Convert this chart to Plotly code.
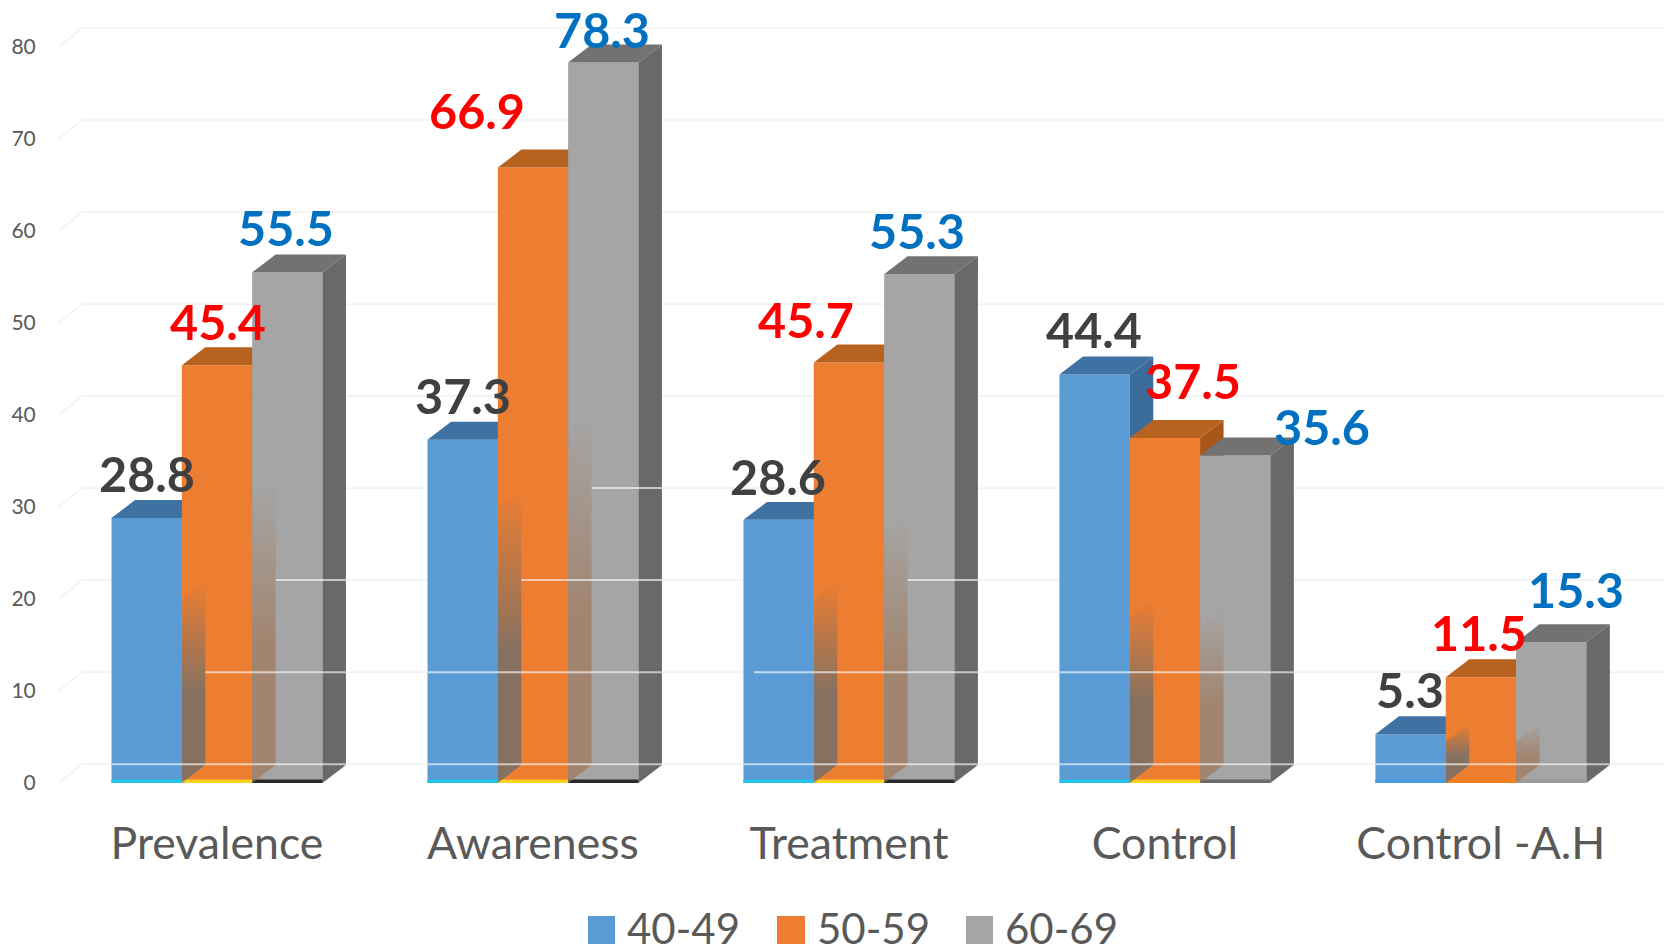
import plotly.graph_objects as go

# ---- chart data ----
categories = ["Prevalence", "Awareness", "Treatment", "Control", "Control -A.H"]
age_groups = ["40-49", "50-59", "60-69"]
values_40_49 = [28.8, 37.3, 28.6, 44.4, 5.3]
values_50_59 = [45.4, 66.9, 45.7, 37.5, 11.5]
values_60_69 = [55.5, 78.3, 55.3, 35.6, 15.3]
y_ticks = [0, 10, 20, 30, 40, 50, 60, 70, 80]

# Height up to which the neighbouring bar's side bleeds through each front face
bleed_50_59 = [20, 30, 20, 18, 4.5]
bleed_60_69 = [31, 38, 27, 17, 4.5]

# ---- styling ----
FIG_W, FIG_H = 1667, 947
M_L, M_B = 56, 164
Y_MAX = 85.1
X_MIN, X_MAX = -0.5095, 4.589
BAR_W = 0.2225
DEPTH_X = 0.0744
DEPTH_Y = 1.95
WALL_Y = 2.05
FONT = "Lato"
TEXT_GREY = "#595959"

front = ["#5b9bd5", "#ed7d31", "#a5a5a5"]
top_face = ["#3f72a3", "#b8621f", "#727272"]
side_face = ["#3c6c9b", "#a9561b", "#696969"]
label_colors = ["#404040", "#ff0000", "#0070c0"]
foot_colors = [
    ["#1fc3ea", "#1fc3ea", "#1fc3ea", "#1fc3ea", "#4a9ae0"],
    ["#ffd21e", "#ffd21e", "#ffd21e", "#ffd21e", "#f08020"],
    ["#2b2b2b", "#2b2b2b", "#2b2b2b", "#6b6b6b", "#9a9a9a"],
]
bleed_colors = ["rgba(105,110,110,0.78)", "rgba(160,120,90,0.72)"]

# Pixel nudges (dx, dy) of each value label relative to its bar's top
label_shift = [
    [(0, 45), (0, 45), (-1, 44), (-1, 45), (-1, 45)],
    [(1, 44), (-56, 57), (-43, 44), (28, 58), (-2, 45)],
    [(-1, 45), (-1, 34), (-2, 44), (87, 29), (25, 53)],
]

# Pale highlight lines crossing the bars: group -> [(level, first bar index, inset)]
highlight_rows = {
    0: [(0, 0, 0), (10, 1, 1), (20, 2, 1)],
    1: [(0, 0, 0), (10, 0, 0), (20, 1, 1), (30, 2, 1)],
    2: [(0, 0, 0), (10, 0, 0.45), (20, 2, 1)],
    3: [(0, 0, 0), (10, 0, 0)],
    4: [(0, 0, 0)],
}

series = [values_40_49, values_50_59, values_60_69]


def bar_left(group, k):
    return group + (k - 1.5) * BAR_W


fig = go.Figure()

# Back wall and floor-side gridlines, offset by the depth of the 3-D box
grid_x, grid_y = [], []
for v in y_ticks:
    grid_x += [X_MIN + 0.008, X_MIN + 0.008 + DEPTH_X, X_MAX - 0.01, None]
    grid_y += [v, v + WALL_Y, v + WALL_Y, None]
fig.add_trace(go.Scatter(x=grid_x, y=grid_y, mode="lines", showlegend=False, hoverinfo="skip",
                         line=dict(color="#f3f3f3", width=1.6), cliponaxis=False))

# One overlaid subplot per series, so each bar covers the side of the previous one
for k, name in enumerate(age_groups):
    xa, ya = f"x{k + 2}", f"y{k + 2}"
    fig.add_trace(go.Bar(
        x=[i - 1.5 * BAR_W + (k + 0.5) * BAR_W for i in range(len(categories))],
        y=series[k], width=BAR_W, name=name, marker=dict(color=front[k], line=dict(width=0)),
        xaxis=xa, yaxis=ya, showlegend=False, cliponaxis=False,
    ))
    for i, v in enumerate(series[k]):
        x0 = bar_left(i, k)
        x1 = x0 + BAR_W
        fig.add_trace(go.Scatter(
            x=[x0, x0 + DEPTH_X, x1 + DEPTH_X, x1, x0],
            y=[v, v + DEPTH_Y, v + DEPTH_Y, v, v],
            fill="toself", fillcolor=top_face[k], mode="none", xaxis=xa, yaxis=ya,
            showlegend=False, hoverinfo="skip",
        ))
        fig.add_trace(go.Scatter(
            x=[x1, x1 + DEPTH_X, x1 + DEPTH_X, x1, x1],
            y=[0, DEPTH_Y, v + DEPTH_Y, v, 0],
            fill="toself", fillcolor=side_face[k], mode="none", xaxis=xa, yaxis=ya,
            showlegend=False, hoverinfo="skip",
        ))
        fig.add_trace(go.Scatter(
            x=[x0, x1], y=[0.2, 0.2], mode="lines", line=dict(color=foot_colors[k][i], width=3.5),
            xaxis=xa, yaxis=ya, showlegend=False, hoverinfo="skip",
        ))

# Soft shadows of the neighbouring side faces showing through the fronts
for k, bleed in zip((1, 2), (bleed_50_59, bleed_60_69)):
    for i, h in enumerate(bleed):
        x0 = bar_left(i, k)
        fig.add_trace(go.Scatter(
            x=[x0, x0 + DEPTH_X, x0 + DEPTH_X, x0, x0],
            y=[0, DEPTH_Y, h + DEPTH_Y, h, 0],
            fill="toself", mode="none", xaxis="x5", yaxis="y5",
            fillgradient=dict(type="vertical", colorscale=[
                [0.0, bleed_colors[k - 1]], [0.45, bleed_colors[k - 1]],
                [1.0, bleed_colors[k - 1].rsplit(",", 1)[0] + ",0)"]]),
            showlegend=False, hoverinfo="skip",
        ))

# Highlight rows
hx, hy = [], []
for group, rows in highlight_rows.items():
    for level, first, inset in rows:
        start = bar_left(group, first) + inset * DEPTH_X
        hx += [start, bar_left(group, 2) + BAR_W + DEPTH_X, None]
        hy += [level + WALL_Y, level + WALL_Y, None]
fig.add_trace(go.Scatter(x=hx, y=hy, mode="lines", xaxis="x5", yaxis="y5", showlegend=False,
                         hoverinfo="skip", line=dict(color="rgba(255,255,255,0.62)", width=2)))

# Value labels
annotations = []
for k, vals in enumerate(series):
    for i, v in enumerate(vals):
        dx, dy = label_shift[k][i]
        annotations.append(dict(
            x=bar_left(i, k) + BAR_W / 2, y=v, xref="x", yref="y", text=f"<b>{v:.1f}</b>",
            showarrow=False, xshift=dx, yshift=dy, xanchor="center", yanchor="middle",
            font=dict(family=FONT, size=48.5, color=label_colors[k]),
        ))

# Key below the chart
plot_w = FIG_W - M_L
plot_h = FIG_H - M_B
key_swatch_px = [(588, 615), (777, 805), (966, 993)]
shapes = []
for k, (a, b) in enumerate(key_swatch_px):
    shapes.append(dict(type="rect", xref="paper", yref="paper",
                       x0=(a - M_L) / plot_w, x1=(b - M_L) / plot_w,
                       y0=(plot_h - 944) / plot_h, y1=(plot_h - 916) / plot_h,
                       fillcolor=front[k], line=dict(width=0)))
    annotations.append(dict(
        x=(b + 10 - M_L) / plot_w, y=(plot_h - 928) / plot_h, xref="paper", yref="paper",
        text=age_groups[k], showarrow=False, xanchor="left", yanchor="middle",
        font=dict(family=FONT, size=42, color=TEXT_GREY),
    ))

overlay_x = dict(overlaying="x", matches="x", visible=False)
overlay_y = dict(overlaying="y", matches="y", visible=False)

fig.update_layout(
    width=FIG_W, height=FIG_H, autosize=False,
    margin=dict(l=M_L, r=0, t=0, b=M_B, pad=0),
    paper_bgcolor="white", plot_bgcolor="white",
    barmode="overlay", showlegend=False,
    annotations=annotations, shapes=shapes,
    xaxis=dict(range=[X_MIN, X_MAX], tickmode="array", tickvals=list(range(len(categories))),
               ticktext=categories, showgrid=False, zeroline=False, showline=False,
               ticks="outside", ticklen=21, tickcolor="rgba(0,0,0,0)",
               tickfont=dict(family=FONT, size=44.6, color=TEXT_GREY)),
    yaxis=dict(range=[0, Y_MAX], tickmode="array", tickvals=y_ticks,
               showgrid=False, zeroline=False, showline=False,
               ticks="outside", ticklen=15, tickcolor="rgba(0,0,0,0)",
               tickfont=dict(family=FONT, size=21, color=TEXT_GREY)),
    xaxis2=overlay_x, yaxis2=overlay_y,
    xaxis3=overlay_x, yaxis3=overlay_y,
    xaxis4=overlay_x, yaxis4=overlay_y,
    xaxis5=overlay_x, yaxis5=overlay_y,
)

fig.write_html("out.html", config=dict(displayModeBar=False))
